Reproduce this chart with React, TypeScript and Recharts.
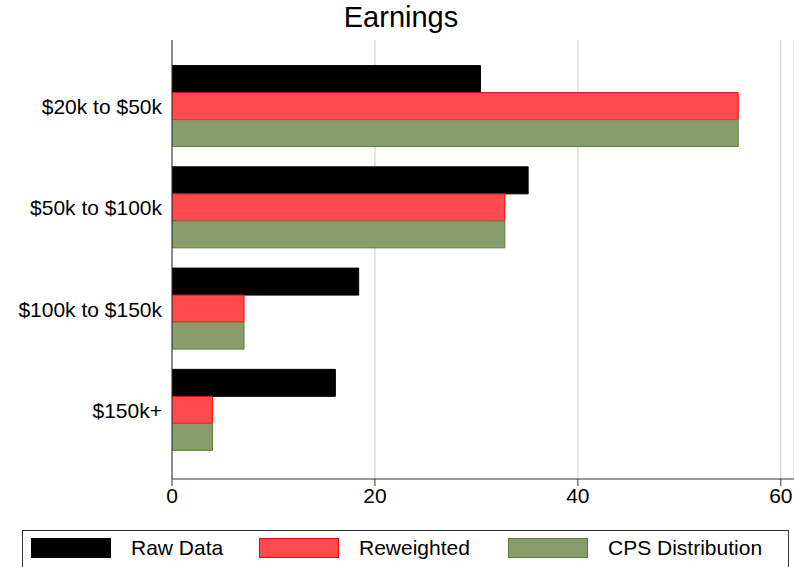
import { Bar, BarChart, CartesianGrid, XAxis, YAxis } from 'recharts';

const categories = ['$20k to $50k', '$50k to $100k', '$100k to $150k', '$150k+'];
const rawData = [30.4, 35.1, 18.4, 16.1];
const reweighted = [55.8, 32.8, 7.1, 4.0];
const cpsDistribution = [55.8, 32.8, 7.1, 4.0];
const xTicks = [0, 20, 40, 60];

const SERIES = [
  { key: 'raw', name: 'Raw Data', fill: '#000000', stroke: '#000000' },
  { key: 'reweighted', name: 'Reweighted', fill: '#ff4b4f', stroke: '#ff0000' },
  { key: 'cps', name: 'CPS Distribution', fill: '#889d6b', stroke: '#5a7d33' },
];

const FONT = '"Liberation Sans", Arial, sans-serif';

export default function App() {
  const data = categories.map((name, i) => ({
    name,
    raw: rawData[i],
    reweighted: reweighted[i],
    cps: cpsDistribution[i],
  }));

  return (
    <div
      style={{
        position: 'absolute',
        left: 0,
        top: 0,
        width: 794,
        height: 567,
        overflow: 'hidden',
        background: '#fff',
        fontFamily: FONT,
      }}
    >
      {/* title */}
      <div
        style={{
          position: 'absolute',
          top: 1,
          left: 0,
          width: 802,
          textAlign: 'center',
          fontSize: 29,
          color: '#000',
        }}
      >
        Earnings
      </div>

      <BarChart
        width={794}
        height={567}
        data={data}
        layout="vertical"
        margin={{ top: 40, right: 0, bottom: 58, left: 0 }}
        barCategoryGap={9.6}
        barGap={0}
      >
        <CartesianGrid horizontal={false} stroke="#dcdcdc" strokeWidth={1.5} />
        <XAxis
          type="number"
          domain={[0, 61.3]}
          ticks={xTicks}
          allowDataOverflow
          height={30}
          tickSize={7}
          tickMargin={2}
          stroke="#333"
          tick={{ fill: '#000', fontSize: 21, fontFamily: FONT }}
        />
        <XAxis
          xAxisId="top"
          orientation="top"
          type="number"
          domain={[0, 61.3]}
          height={0}
          tick={false}
          tickLine={false}
          stroke="#333"
        />
        <YAxis
          type="category"
          dataKey="name"
          width={172}
          tickLine={false}
          tickSize={0}
          tickMargin={10}
          padding={{ top: 16, bottom: 18 }}
          stroke="#333"
          tick={{ fill: '#000', fontSize: 21, fontFamily: FONT }}
        />
        {SERIES.map((s) => (
          <Bar
            key={s.key}
            dataKey={s.key}
            name={s.name}
            fill={s.fill}
            stroke={s.stroke}
            strokeWidth={1}
            isAnimationActive={false}
          />
        ))}
      </BarChart>

      {/* legend */}
      <div
        style={{
          position: 'absolute',
          left: 22,
          top: 530,
          width: 767,
          height: 40,
          border: '1px solid #333',
          boxSizing: 'border-box',
        }}
      >
        {SERIES.map((s, i) => {
          const lefts = [8, 236, 485];
          return (
            <div
              key={s.key}
              style={{
                position: 'absolute',
                left: lefts[i],
                top: 5,
                display: 'flex',
                alignItems: 'center',
                fontSize: 21,
                color: '#000',
              }}
            >
              <span
                style={{
                  display: 'inline-block',
                  width: 80,
                  height: 20,
                  background: s.fill,
                  border: `1px solid ${s.stroke}`,
                  boxSizing: 'border-box',
                  marginRight: 20,
                }}
              />
              {s.name}
            </div>
          );
        })}
      </div>
    </div>
  );
}
